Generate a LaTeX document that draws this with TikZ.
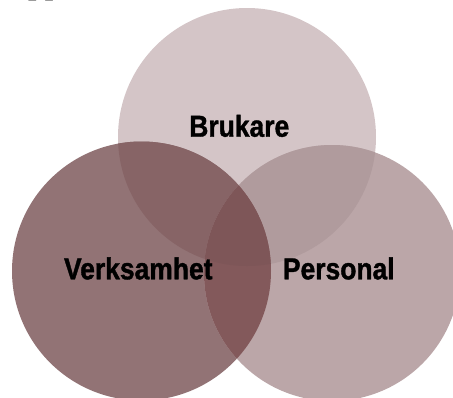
\documentclass[tikz,border=0pt]{standalone}
\usepackage{fontspec}
\setmainfont{Liberation Serif}
\newfontfamily\labelfont[FakeStretch=0.873, FakeBold=1.2]{Liberation Sans}
\definecolor{cT}{HTML}{D4C5C7}
\definecolor{cL}{HTML}{927375}
\definecolor{cR}{HTML}{BBA6A8}
\definecolor{cTL}{HTML}{876466}
\definecolor{cTR}{HTML}{B09B9D}
\definecolor{cLR}{HTML}{83595B}
\definecolor{cTLR}{HTML}{7E5658}
\begin{document}
\begin{tikzpicture}[x=1pt,y=-1pt,
  lbl/.style={font=\labelfont\bfseries\fontsize{30.3}{36}\selectfont, anchor=base, inner sep=0pt, text=black}]
\useasboundingbox (0,0) rectangle (453,397);
\coordinate (T) at (247,137);
\coordinate (L) at (141.5,271);
\coordinate (R) at (332,273);
\def\rT{129}\def\rL{129.5}\def\rR{128}
% single circles
\fill[cT] (T) circle[radius=\rT];
\fill[cL] (L) circle[radius=\rL];
\fill[cR] (R) circle[radius=\rR];
% pairwise overlaps
\begin{scope}
  \clip (T) circle[radius=\rT];
  \fill[cTL] (L) circle[radius=\rL];
  \fill[cTR] (R) circle[radius=\rR];
\end{scope}
\begin{scope}
  \clip (L) circle[radius=\rL];
  \fill[cLR] (R) circle[radius=\rR];
  \clip (T) circle[radius=\rT];
  \fill[cTLR] (R) circle[radius=\rR];
\end{scope}
% labels
\node[lbl] (brukare) at (239.3,136.7) {Brukare};
\node[lbl] (verksamhet) at (138.3,279.3) {Verksamhet};
\node[lbl] (personal) at (338.8,279.3) {Personal};
% cut-off heading at top
\node[font=\bfseries\fontsize{30}{36}\selectfont, anchor=base west, inner sep=0pt] (head) at (28,-6) {pp};
\end{tikzpicture}
\end{document}
